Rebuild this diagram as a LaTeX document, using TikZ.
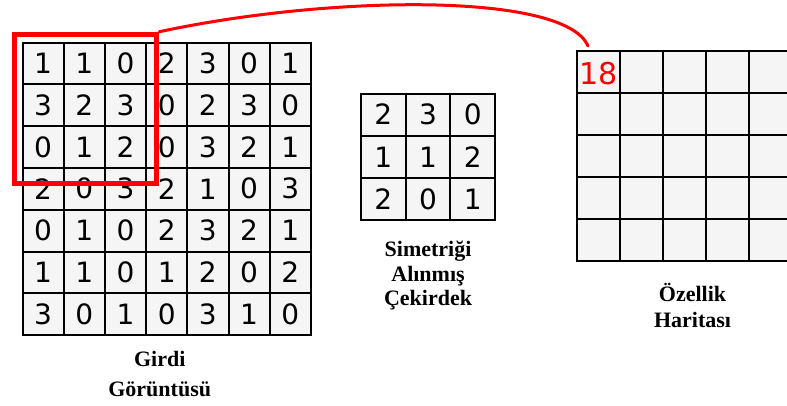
\documentclass[tikz,border=0pt]{standalone}
\usepackage{fontspec}
\setmainfont{Liberation Serif}
\newfontfamily\digitfont{DejaVu Sans}
\usetikzlibrary{positioning}
\definecolor{cellgray}{HTML}{F5F5F5}
\definecolor{hired}{HTML}{FF0000}
\tikzset{
cell/.style={draw,fill=cellgray,line width=2pt,inner sep=0pt,font=\digitfont\fontsize{28}{28}\selectfont},
incell/.style={cell,minimum width=41.2pt,minimum height=41.8pt},
kcell/.style={cell,minimum width=44.7pt,minimum height=42.2pt},
fcell/.style={cell,minimum width=43pt,minimum height=42pt},
caption/.style={align=center,inner sep=0pt,font=\bfseries\fontsize{22}{#1}\selectfont},
window/.style={draw=hired,line width=5.5pt,minimum width=142pt,minimum height=149pt,inner sep=0pt},
link/.style={draw=hired,line width=3pt,line cap=round}
}

\begin{document}
\begin{tikzpicture}[x=1pt,y=-1pt]
\useasboundingbox (0,0) rectangle (787,405);
\clip (0,0) rectangle (787,405);
% input image
\foreach \row [count=\r] in {{1,1,0,2,3,0,1},{3,2,3,0,2,3,0},{0,1,2,0,3,2,1},{2,0,3,2,1,0,3},{0,1,0,2,3,2,1},{1,1,0,1,2,0,2},{3,0,1,0,3,1,0}}
  \foreach \v [count=\c] in \row
    \node[incell](in-\r-\c) at ({22.5+41.2*(\c-0.5)},{42.5+41.8*(\r-0.5)}){\v};
% flipped kernel
\foreach \row [count=\r] in {{2,3,0},{1,1,2},{2,0,1}}
  \foreach \v [count=\c] in \row
    \node[kcell](k-\r-\c) at ({361+44.7*(\c-0.5)},{93.5+42.2*(\r-0.5)}){\v};
% feature map
\foreach \r in {1,...,5}
  \foreach \c in {1,...,5}
    \node[fcell](f-\r-\c) at ({577+43*(\c-0.5)},{51+42*(\r-0.5)}){};
\node[font=\digitfont\fontsize{30}{30}\selectfont,text=hired,inner sep=0pt](val) at ([yshift=-1.5pt]f-1-1){18};

\node[caption=30,below=15pt of in-7-4,xshift=-7pt](incap){Girdi\\Görüntüsü};
\node[caption=24.5,below=20pt of k-3-2](kcap){Simetriği\\Alınmış\\Çekirdek};
\node[caption=26,below=21pt of f-5-3,xshift=8pt](fcap){Özellik\\Haritası};

\node[window](win) at (85.5,109){};
\coordinate (tip) at (588,46);
\draw[link](win.north east) .. controls (330,-5) and (565,-8) .. (tip);
\end{tikzpicture}
\end{document}
